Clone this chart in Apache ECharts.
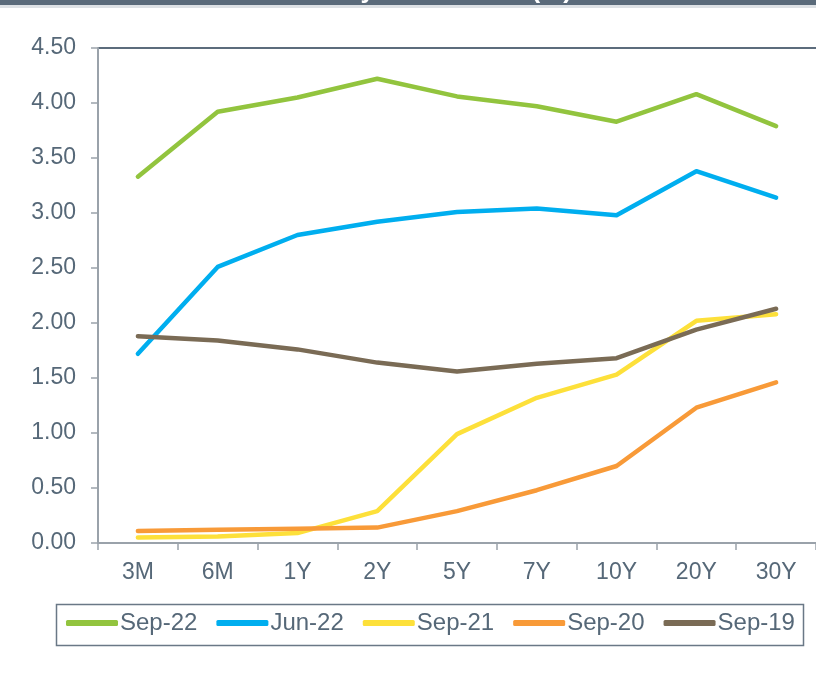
<!DOCTYPE html>
<html lang="en">
<head>
    <meta charset="UTF-8">
    <title>Yield curve</title>
    <script src="https://cdn.jsdelivr.net/npm/echarts@6/dist/echarts.min.js"></script>
    <style>
        html, body {
            margin: 0;
            padding: 0;
            background: #fff;
        }

        #chart {
            width: 816px;
            height: 674px;
        }
    </style>
</head>
<body>
<div id="chart"></div>
<script type="text/javascript">
    // tenors on the x axis
    var tenors = ['3M', '6M', '1Y', '2Y', '5Y', '7Y', '10Y', '20Y', '30Y'];

    // yields (%) per curve date
    var sep22 = [3.33, 3.92, 4.05, 4.22, 4.06, 3.97, 3.83, 4.08, 3.79];
    var jun22 = [1.72, 2.51, 2.80, 2.92, 3.01, 3.04, 2.98, 3.38, 3.14];
    var sep21 = [0.05, 0.06, 0.09, 0.29, 0.99, 1.32, 1.53, 2.02, 2.08];
    var sep20 = [0.11, 0.12, 0.13, 0.14, 0.29, 0.48, 0.70, 1.23, 1.46];
    var sep19 = [1.88, 1.84, 1.76, 1.64, 1.56, 1.63, 1.68, 1.94, 2.13];

    var seriesNames = ['Sep-22', 'Jun-22', 'Sep-21', 'Sep-20', 'Sep-19'];
    var seriesData = [sep22, jun22, sep21, sep20, sep19];
    var seriesColors = ['#92c43e', '#00aeef', '#fde03a', '#f89a38', '#7a6b55'];

    var textColor = '#566878';
    var fontName = '"Liberation Sans", Arial, sans-serif';

    var myChart = echarts.init(document.getElementById('chart'), null, {renderer: 'canvas'});

    var series = [];
    for (var i = 0; i < seriesData.length; i++) {
        series.push({
            name: seriesNames[i],
            type: 'line',
            data: seriesData[i],
            symbol: 'none',
            smooth: false,
            color: seriesColors[i],
            lineStyle: {width: 4.5, color: seriesColors[i], cap: 'round', join: 'round'}
        });
    }

    // only the top split line (4.50) is drawn
    var splitColors = [];
    for (var k = 0; k < 9; k++) splitColors.push('rgba(0,0,0,0)');
    splitColors.push('#5c6c7c');

    var option = {
        animation: false,
        backgroundColor: '#fff',
        textStyle: {fontFamily: fontName},
        graphic: [
            //顶部标题栏（被裁掉，只露出下沿）
            {type: 'rect', left: 0, top: 0, shape: {width: 816, height: 5}, style: {fill: '#5a6a7a'}},
            {type: 'rect', left: 0, top: 5, shape: {width: 816, height: 3}, style: {fill: '#dde1e5'}},
            {
                type: 'text', x: 572, y: 4, z: 10,
                style: {
                    text: 'US Treasury Yield Curve (%)',
                    fill: '#fff',
                    font: 'bold 26px ' + fontName,
                    align: 'right',
                    verticalAlign: 'bottom'
                }
            },
            //图例边框
            {
                type: 'rect', left: 54, top: 602,
                shape: {width: 747, height: 41},
                style: {fill: 'none', stroke: '#6a7886', lineWidth: 1.5}
            }
        ],
        grid: {
            left: 98,
            right: -1,
            top: 48,
            bottom: 131,
            containLabel: false
        },
        legend: {
            data: seriesNames,
            left: 66,
            top: 606,
            icon: 'roundRect',
            itemWidth: 52,
            itemHeight: 6,
            itemGap: 19,
            padding: [5, 0],
            textStyle: {color: textColor, fontSize: 24, fontFamily: fontName, padding: [0, 0, 0, -3]}
        },
        xAxis: {
            type: 'category',
            data: tenors,
            boundaryGap: true,
            axisLine: {lineStyle: {color: '#9aa2aa', width: 2}},
            axisTick: {show: true, length: 7, lineStyle: {color: '#9aa2aa', width: 1.5}},
            axisLabel: {color: textColor, fontSize: 23, margin: 18, fontFamily: fontName},
            splitLine: {show: false}
        },
        yAxis: {
            type: 'value',
            min: 0,
            max: 4.5,
            interval: 0.5,
            axisLine: {show: true, lineStyle: {color: '#9aa2aa', width: 2}},
            axisTick: {show: true, inside: false, length: 7, lineStyle: {color: '#9aa2aa', width: 1.5}},
            axisLabel: {
                color: textColor, fontSize: 23, margin: 22, fontFamily: fontName,
                formatter: function (v) {
                    return v.toFixed(2);
                }
            },
            splitLine: {show: true, lineStyle: {color: splitColors, width: 2}}
        },
        series: series
    };
    myChart.setOption(option);
</script>
</body>
</html>
